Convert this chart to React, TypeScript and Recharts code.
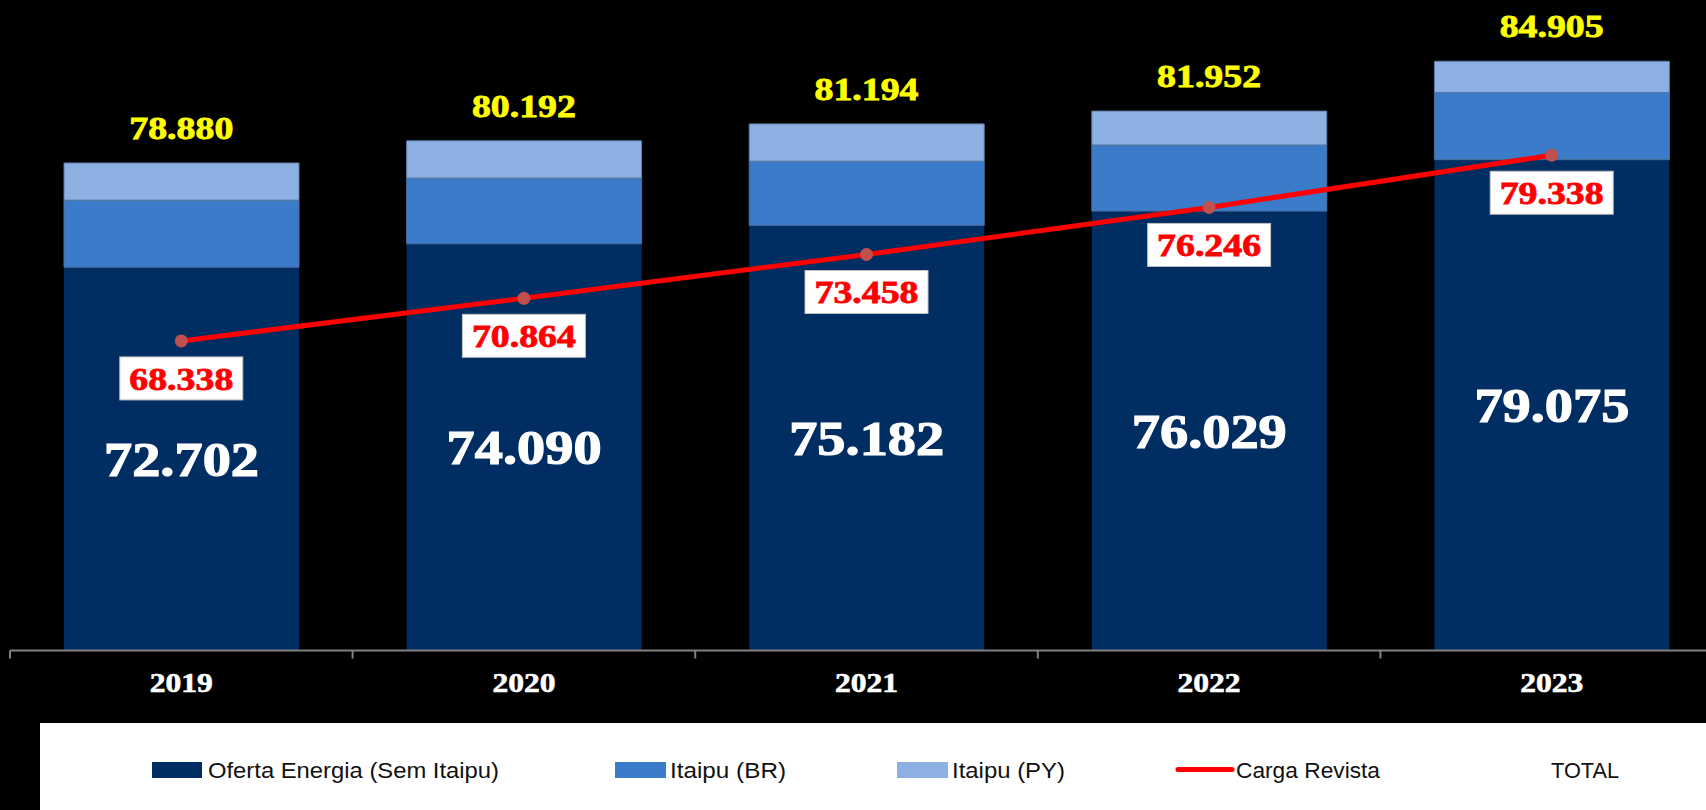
import React from 'react';
import { ComposedChart, Bar, Line, XAxis, YAxis, Legend, LabelList } from 'recharts';

// ---------- data ----------
const YEARS = ['2019', '2020', '2021', '2022', '2023'];
const OFERTA = [72.702, 74.09, 75.182, 76.029, 79.075];
const ITAIPU_BR = [3.974, 3.897, 3.803, 3.917, 3.979];
const ITAIPU_PY = [2.204, 2.205, 2.209, 2.006, 1.851];
const CARGA = [68.338, 70.864, 73.458, 76.246, 79.338];
const TOTAL = [78.88, 80.192, 81.194, 81.952, 84.905];
const SERIES_NAMES = ['Oferta Energia (Sem Itaipu)', 'Itaipu (BR)', 'Itaipu (PY)', 'Carga Revista', 'TOTAL'];
const Y_DOMAIN: [number, number] = [50, 88];

const data = YEARS.map((year, i) => ({
  year,
  oferta: OFERTA[i],
  br: ITAIPU_BR[i],
  py: ITAIPU_PY[i],
  carga: CARGA[i],
  total: TOTAL[i],
}));

// ---------- styles / layout ----------
const COLORS = { oferta: '#002d62', br: '#3a7bca', py: '#8db1e2', carga: '#ff0000', dot: '#c0504d' };
const CHART_W = 1740;
const CHART_H = 810;
const MARGIN = { top: 9, right: 17, bottom: 32.5, left: 10 };
const PLOT_BOTTOM = 650.5;
const BAND = (CHART_W - MARGIN.left - MARGIN.right) / YEARS.length;
const SERIF = 'Liberation Serif, Times New Roman, serif';
const SANS = 'Liberation Sans, Arial, sans-serif';

const fmt = (v: any) => Number(v).toFixed(3);

const XTick = (props: any) => {
  const { x, y, payload, index } = props;
  const half = BAND / 2;
  return (
    <g>
      <line x1={x - half} x2={x - half} y1={y} y2={y + 8} stroke="#808080" strokeWidth={2} />
      {index === YEARS.length - 1 && (
        <line x1={x + half} x2={x + half} y1={y} y2={y + 8} stroke="#808080" strokeWidth={2} />
      )}
      <text
        x={x}
        y={y + 41}
        textAnchor="middle"
        fill="#ffffff"
        stroke="#ffffff"
        strokeWidth={0.6}
        fontFamily={SERIF}
        fontWeight="bold"
        fontSize={27}
        textLength={63}
        lengthAdjust="spacingAndGlyphs"
      >
        {payload.value}
      </text>
    </g>
  );
};

const OfertaLabel = (p: any) => {
  const bottom = Math.min(p.y + p.height, PLOT_BOTTOM);
  const cy = (p.y + bottom) / 2;
  return (
    <text
      x={p.x + p.width / 2}
      y={cy + 17}
      textAnchor="middle"
      fill="#ffffff"
      stroke="#ffffff"
      strokeWidth={1.2}
      fontFamily={SERIF}
      fontWeight="bold"
      fontSize={48}
      textLength={155}
      lengthAdjust="spacingAndGlyphs"
    >
      {fmt(p.value)}
    </text>
  );
};

const CargaLabel = (p: any) => (
  <g>
    <rect x={p.x - 61.5} y={p.y + 16} width={123} height={43} fill="#ffffff" stroke="#bfbfbf" strokeWidth={1} />
    <text
      x={p.x}
      y={p.y + 16 + 33}
      textAnchor="middle"
      fill="#ff0000"
      stroke="#ff0000"
      strokeWidth={0.8}
      fontFamily={SERIF}
      fontWeight="bold"
      fontSize={32}
      textLength={104}
      lengthAdjust="spacingAndGlyphs"
    >
      {fmt(p.value)}
    </text>
  </g>
);

const TotalLabel = (p: any) => (
  <text
    x={p.x}
    y={p.y - 24}
    textAnchor="middle"
    fill="#ffff00"
    stroke="#ffff00"
    strokeWidth={0.8}
    fontFamily={SERIF}
    fontWeight="bold"
    fontSize={32}
    textLength={104}
    lengthAdjust="spacingAndGlyphs"
  >
    {fmt(p.value)}
  </text>
);

const LEGEND_W = 1700;
const LEGEND_H = 87;
const LEGEND_ITEMS = [
  { kind: 'rect', color: COLORS.oferta, mx: 112, mw: 50, tx: 168, tw: 291 },
  { kind: 'rect', color: COLORS.br, mx: 575, mw: 51, tx: 630, tw: 116 },
  { kind: 'rect', color: COLORS.py, mx: 857, mw: 51, tx: 912, tw: 113 },
  { kind: 'line', color: COLORS.carga, mx: 1138, mw: 54, tx: 1196, tw: 144 },
  { kind: 'none', color: 'none', mx: 0, mw: 0, tx: 1511, tw: 68 },
];

const LegendContent = () => (
  <svg width={LEGEND_W} height={LEGEND_H} style={{ display: 'block' }}>
    <rect x={0} y={0} width={LEGEND_W} height={LEGEND_H} fill="#ffffff" />
    {LEGEND_ITEMS.map((it, i) => (
      <g key={i}>
        {it.kind === 'rect' && <rect x={it.mx} y={39} width={it.mw} height={16} fill={it.color} />}
        {it.kind === 'line' && (
          <line x1={it.mx} x2={it.mx + it.mw} y1={46.5} y2={46.5} stroke={it.color} strokeWidth={5} strokeLinecap="round" />
        )}
        <text
          x={it.tx}
          y={54.5}
          fill="#111111"
          fontFamily={SANS}
          fontSize={22.5}
          textLength={it.tw}
          lengthAdjust="spacingAndGlyphs"
        >
          {SERIES_NAMES[i]}
        </text>
      </g>
    ))}
  </svg>
);

export default function App() {
  return (
    <div
      style={{
        position: 'fixed',
        left: 0,
        top: 0,
        width: 1706,
        height: 810,
        overflow: 'hidden',
        background: '#000000',
      }}
    >
      <ComposedChart width={CHART_W} height={CHART_H} data={data} margin={MARGIN}>
        <XAxis
          dataKey="year"
          axisLine={{ stroke: '#808080', strokeWidth: 2 }}
          tickLine={false}
          tickSize={0}
          tickMargin={0}
          height={40}
          interval={0}
          tick={(p: any) => <XTick {...p} />}
        />
        <YAxis hide type="number" domain={Y_DOMAIN} allowDataOverflow />
        <Legend
          verticalAlign="bottom"
          content={() => <LegendContent />}
          wrapperStyle={{ left: 40, bottom: 0, width: LEGEND_W, height: LEGEND_H }}
        />
        <Bar dataKey="oferta" name={SERIES_NAMES[0]} stackId="a" fill={COLORS.oferta} barSize={235} isAnimationActive={false}>
          <LabelList dataKey="oferta" content={OfertaLabel} />
        </Bar>
        <Bar
          dataKey="br"
          name={SERIES_NAMES[1]}
          stackId="a"
          fill={COLORS.br}
          stroke="#4d6f9c"
          strokeWidth={1}
          barSize={235}
          isAnimationActive={false}
        />
        <Bar
          dataKey="py"
          name={SERIES_NAMES[2]}
          stackId="a"
          fill={COLORS.py}
          stroke="#5b7aa3"
          strokeWidth={1}
          barSize={235}
          isAnimationActive={false}
        />
        <Line
          dataKey="carga"
          name={SERIES_NAMES[3]}
          stroke={COLORS.carga}
          strokeWidth={5}
          dot={{ r: 6.5, fill: COLORS.dot, stroke: 'none', strokeWidth: 0 }}
          activeDot={false}
          isAnimationActive={false}
        >
          <LabelList dataKey="carga" content={CargaLabel} />
        </Line>
        <Line
          dataKey="total"
          name={SERIES_NAMES[4]}
          stroke="none"
          dot={false}
          activeDot={false}
          legendType="none"
          isAnimationActive={false}
        >
          <LabelList dataKey="total" content={TotalLabel} />
        </Line>
      </ComposedChart>
    </div>
  );
}
